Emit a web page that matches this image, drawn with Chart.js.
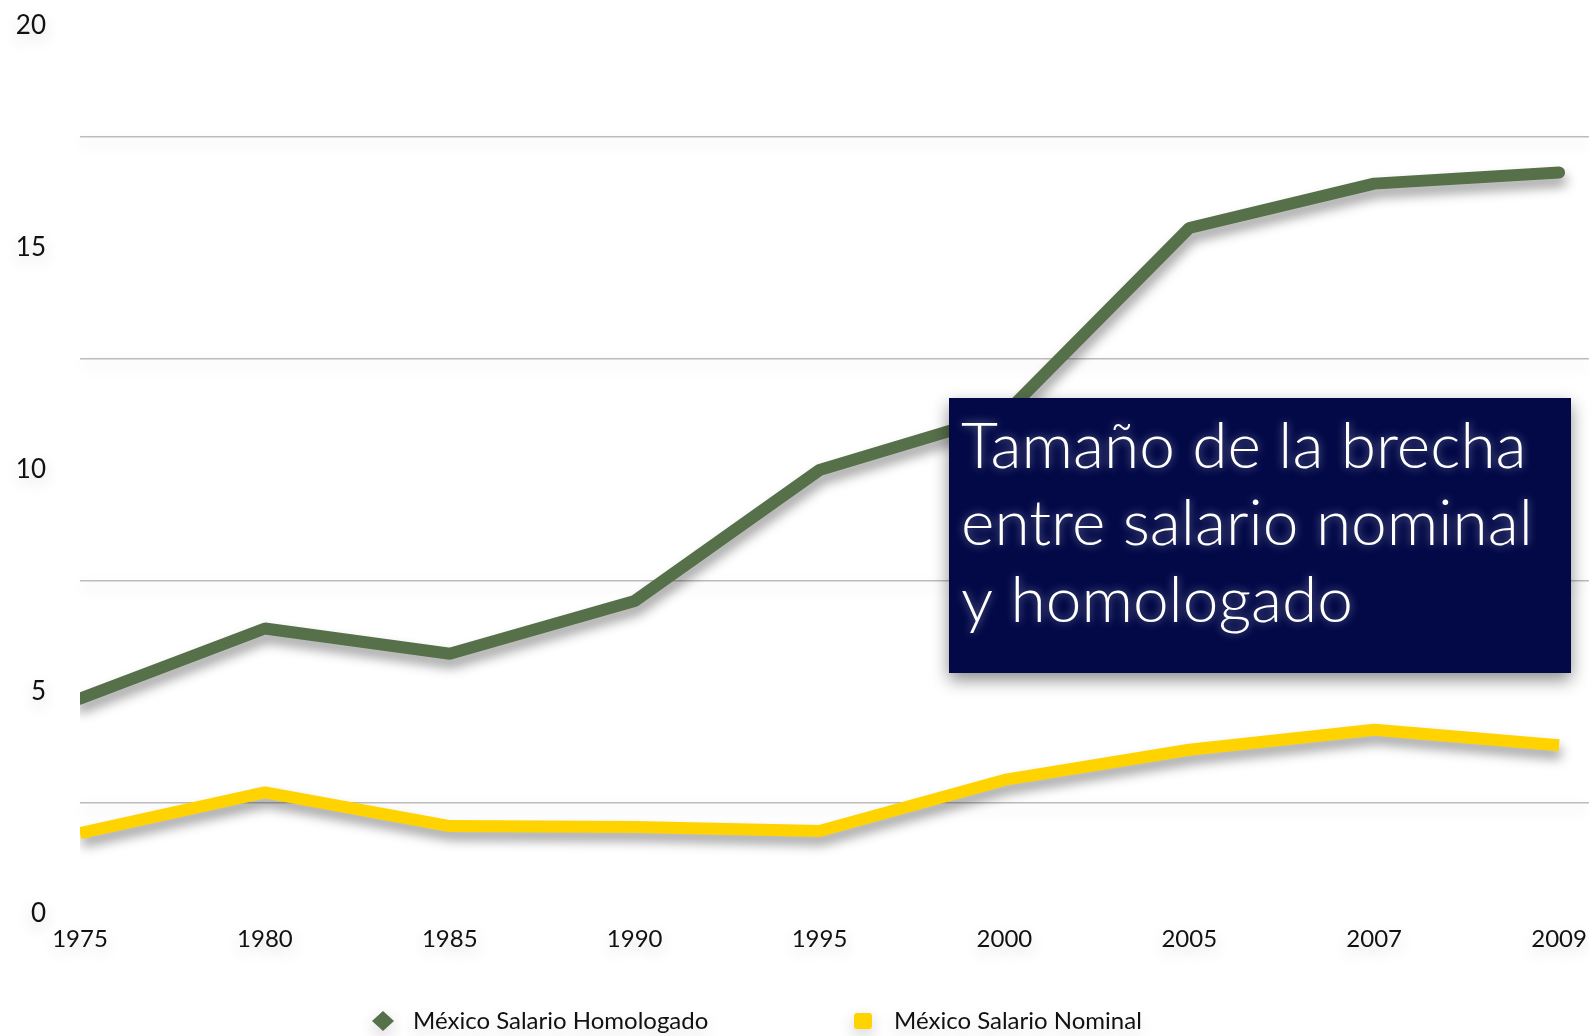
<!DOCTYPE html>
<html>
<head>
<meta charset="utf-8">
<script src="https://cdn.jsdelivr.net/npm/chart.js@4.4.1/dist/chart.umd.min.js"></script>
<style>
  html, body { margin: 0; padding: 0; background: #fff; }
  #wrap { width: 1589px; height: 1036px; position: relative; }
</style>
</head>
<body>
<div id="wrap"><canvas id="chart" width="1589" height="1036"></canvas></div>
<script>
// datos
const years = ['1975', '1980', '1985', '1990', '1995', '2000', '2005', '2007', '2009'];
const homologado = [4.85, 6.43, 5.86, 7.05, 10.0, 11.25, 15.45, 16.45, 16.7];
const nominal = [1.82, 2.74, 1.98, 1.96, 1.87, 3.02, 3.7, 4.15, 3.8];
const yLabels = [0, 5, 10, 15, 20];
const yGrid = [2.5, 7.5, 12.5, 17.5];
const noteLines = ['Tamaño de la brecha', 'entre salario nominal', 'y homologado'];

const GREEN = '#56704A';
const YELLOW = '#FFD300';
const FONT = 'Lato, "Noto Sans", sans-serif';

Chart.defaults.font.family = FONT;
Chart.defaults.color = '#111';

const toPts = arr => arr.map((v, i) => ({ x: i, y: v }));

// sombra suave bajo textos y lineas
const shadowPlugin = {
    id: 'shadows',
    beforeDraw(chart) {
        const c = chart.ctx;
        c.shadowColor = 'rgba(0,0,0,0.2)';
        c.shadowBlur = 16;
        c.shadowOffsetX = 0;
        c.shadowOffsetY = 6;
    },
    beforeDatasetsDraw(chart) {
        const c = chart.ctx;
        c.shadowColor = 'rgba(0,0,0,0.38)';
        c.shadowBlur = 12;
        c.shadowOffsetX = 2;
        c.shadowOffsetY = 8;
    },
    afterDatasetsDraw(chart) {
        const c = chart.ctx;
        c.shadowColor = 'rgba(0,0,0,0)';
        c.shadowBlur = 0;
        c.shadowOffsetX = 0;
        c.shadowOffsetY = 0;
    }
};

// recuadro de texto + leyenda inferior
const notePlugin = {
    id: 'note',
    afterDraw(chart) {
        const c = chart.ctx;
        c.save();
        c.shadowColor = 'rgba(0,0,0,0.45)';
        c.shadowBlur = 16;
        c.shadowOffsetY = 7;
        c.fillStyle = '#030947';
        c.fillRect(949, 398, 622, 275);
        c.shadowColor = 'rgba(255,255,255,0.45)';
        c.shadowBlur = 10;
        c.shadowOffsetY = 0;
        c.fillStyle = '#fff';
        c.font = '300 64px ' + FONT;
        c.textBaseline = 'alphabetic';
        noteLines.forEach((t, i) => c.fillText(t, 961, 468 + i * 77));
        c.restore();

        // leyenda
        c.save();
        c.shadowColor = 'rgba(0,0,0,0.2)';
        c.shadowBlur = 16;
        c.shadowOffsetY = 6;
        c.font = '24px ' + FONT;
        c.textBaseline = 'middle';
        const items = [
            { x: 383, tx: 413, ds: chart.data.datasets[0], shape: 'diamond' },
            { x: 863, tx: 894, ds: chart.data.datasets[1], shape: 'square' }
        ];
        const y = 1021;
        items.forEach(it => {
            c.fillStyle = it.ds.borderColor;
            c.beginPath();
            if (it.shape === 'diamond') {
                c.moveTo(it.x - 11, y); c.lineTo(it.x, y - 10);
                c.lineTo(it.x + 11, y); c.lineTo(it.x, y + 10);
                c.closePath();
            } else {
                c.roundRect(it.x - 9, y - 8, 18, 16, 3);
            }
            c.fill();
            c.fillStyle = '#111';
            c.fillText(it.ds.label, it.tx, y);
        });
        c.restore();
    }
};

new Chart(document.getElementById('chart'), {
    type: 'line',
    data: {
        datasets: [
            {
                label: 'México Salario Homologado',
                data: toPts(homologado),
                borderColor: GREEN, backgroundColor: GREEN,
                borderWidth: 12, pointRadius: 0, tension: 0,
                borderCapStyle: 'round', borderJoinStyle: 'bevel'
            },
            {
                label: 'México Salario Nominal',
                data: toPts(nominal),
                borderColor: YELLOW, backgroundColor: YELLOW,
                borderWidth: 12, pointRadius: 0, tension: 0,
                borderCapStyle: 'butt', borderJoinStyle: 'bevel'
            }
        ]
    },
    options: {
        responsive: false,
        animation: false,
        devicePixelRatio: 1,
        layout: { padding: { top: 26, left: 0, right: 0, bottom: 0 } },
        plugins: { legend: { display: false }, tooltip: { enabled: false } },
        scales: {
            x: {
                type: 'linear',
                min: 0,
                max: 8.162,
                afterBuildTicks: s => { s.ticks = years.map((_, i) => ({ value: i })); },
                afterFit: s => { s.height = 122; s.paddingLeft = 0; s.paddingRight = 0; },
                ticks: {
                    autoSkip: false, maxRotation: 0, padding: 11,
                    font: { size: 24 }, color: '#111',
                    callback: v => years[v]
                },
                grid: { display: false, drawTicks: false },
                border: { display: false }
            },
            y: {
                min: 0,
                max: 20,
                afterFit: s => { s.width = 80; s.paddingTop = 0; s.paddingBottom = 0; },
                ticks: {
                    stepSize: 2.5, padding: 34,
                    font: { size: 26 }, color: '#111',
                    callback: v => yLabels.includes(v) ? String(v) : ''
                },
                grid: {
                    drawTicks: false, lineWidth: 1.5,
                    color: ctx => yGrid.includes(ctx.tick.value) ? '#bcbcbc' : 'rgba(0,0,0,0)'
                },
                border: { display: false }
            }
        }
    },
    plugins: [shadowPlugin, notePlugin]
});
</script>
</body>
</html>
